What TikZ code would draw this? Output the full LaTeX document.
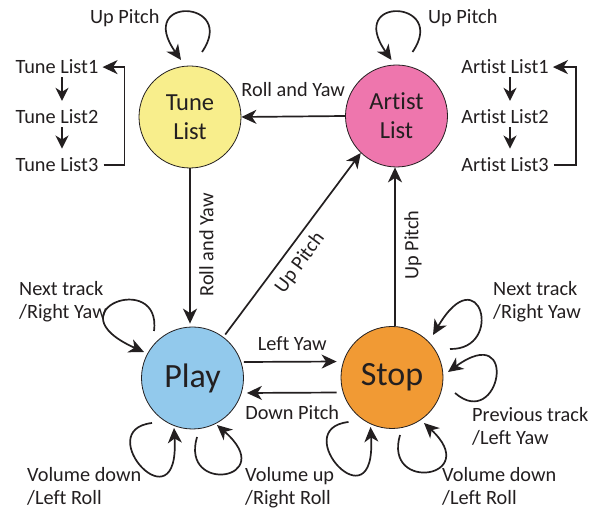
\documentclass[tikz,border=0pt]{standalone}
\usepackage{fontspec}
\setmainfont{Carlito}[Ligatures={NoCommon}]
\usetikzlibrary{arrows.meta,calc}
\definecolor{ink}{HTML}{231F20}
\definecolor{tuneY}{HTML}{F8EE8C}
\definecolor{artistP}{HTML}{EE76AD}
\definecolor{playB}{HTML}{92C9EC}
\definecolor{stopO}{HTML}{F19A34}
\begin{document}
\begin{tikzpicture}[x=1pt,y=-1pt,
  state/.style={circle, draw=ink, line width=0.8pt, minimum size=102pt, inner sep=0pt, text=ink, align=center},
  arr/.style={draw=ink, line width=1.7pt, -{Stealth[length=15pt,width=14pt,inset=4.5pt]}},
  sarr/.style={draw=ink, line width=1.7pt, -{Stealth[length=13pt,width=13pt,inset=4pt]}},
  lbl/.style={font=\fontsize{20.3}{23}\selectfont, text=ink, inner sep=0pt}]
\fill[white] (0,0) rectangle (595,510);
\useasboundingbox (0,0) rectangle (595,510);

% states
\node[state, fill=tuneY, font=\fontsize{24.5}{29}\selectfont] (tune) at (190,117) {Tune\\List};
\node[state, fill=artistP, font=\fontsize{24.5}{29}\selectfont] (artist) at (396.5,116) {Artist\\List};
\node[state, fill=playB, font=\fontsize{34}{36}\selectfont] (play) at (192.5,378) {Play};
\node[state, fill=stopO, font=\fontsize{34}{36}\selectfont] (stop) at (392,377.5) {Stop};

% lists
\node[lbl, anchor=base] (tl1) at (57,74) {Tune List1};
\node[lbl, anchor=base] (tl2) at (57,124) {Tune List2};
\node[lbl, anchor=base] (tl3) at (57,171.7) {Tune List3};
\node[lbl, anchor=base] (al1) at (505,74) {Artist List1};
\node[lbl, anchor=base] (al2) at (505,124) {Artist List2};
\node[lbl, anchor=base] (al3) at (505,171.7) {Artist List3};
\draw[sarr, shorten <=3pt, shorten >=9pt] ([xshift=5pt]tl1.south) -- ([xshift=5pt]tl2.north);
\draw[sarr, shorten <=3pt, shorten >=9pt] ([xshift=5pt]tl2.south) -- ([xshift=5pt]tl3.north);
\draw[sarr, shorten <=3pt, shorten >=9pt] ([xshift=5pt]al1.south) -- ([xshift=5pt]al2.north);
\draw[sarr, shorten <=3pt, shorten >=9pt] ([xshift=5pt]al2.south) -- ([xshift=5pt]al3.north);
\draw[arr, shorten <=5pt, shorten >=4pt] (tl3.east) -- ++(26,0) |- (tl1.east);
\draw[arr, shorten <=5pt, shorten >=4pt] (al3.east) -- ++(27,0) |- (al1.east);

% transitions
\draw[arr] (artist.west) -- node[lbl, above=19pt] {Roll and Yaw} (tune.east);
\draw[arr, shorten >=3pt] (tune.south) -- (tune.south |- play.north);
\node[lbl, rotate=90] at (206.5,244.7) {Roll and Yaw};
\draw[arr, shorten <=3pt] (play.53) -- (artist.226);
\node[lbl, rotate=53.5] at (300,263) {Up Pitch};
\draw[arr] ([xshift=3pt]stop.north) -- ([xshift=3pt]stop.north |- artist.south);
\node[lbl, rotate=90] at (413,245) {Up Pitch};
\draw[arr, shorten >=4pt] ([yshift=16pt]play.east) -- node[lbl, above=10pt] {Left Yaw} ([yshift=16pt]stop.west);
\draw[arr, shorten <=4pt, shorten >=3pt] ([yshift=-15pt]stop.west) -- node[lbl, below=12pt] {Down Pitch} ([yshift=-15pt]play.east);

% self loops
\draw[arr, shift={(tune)}] (12,-65) .. controls (48,-117) and (-55,-122) .. (-9,-57);
\node[lbl, anchor=base west] at (90,24) {Up Pitch};
\draw[arr, shift={(artist)}] (16,-64) .. controls (52,-116) and (-51,-121) .. (-5,-56);
\node[lbl, anchor=base west] at (428,24) {Up Pitch};

\draw[arr, shift={(play)}] (-38.5,-47) .. controls (-30.5,-108) and (-142.5,-68) .. (-48.5,-26);
\node[lbl, anchor=base west, align=left] at (19,319) {Next track\\/Right Yaw};
\draw[arr, shift={(play)}] (-40.5,45) .. controls (-102.5,52) and (-12.5,152) .. (-18.5,50);
\node[lbl, anchor=base west, align=left] at (27,505) {Volume down\\/Left Roll};
\draw[arr, shift={(play)}] (4.5,59) .. controls (-12.5,117) and (87.5,102) .. (24.5,47);
\node[lbl, anchor=base west, align=left] at (245,505) {Volume up\\/Right Roll};

\draw[arr, shift={(stop)}] (58,-28.5) .. controls (113,-27.5) and (88,-122.5) .. (41,-42.5);
\node[lbl, anchor=base west, align=left] at (493,319) {Next track\\/Right Yaw};
\draw[arr, shift={(stop)}] (63,15.5) .. controls (108,54.5) and (128,-57.5) .. (56,-5.5);
\node[lbl, anchor=base west, align=left] at (472,445) {Previous track\\/Left Yaw};
\draw[arr, shift={(stop)}] (-43.5,44.5) .. controls (-105.5,51.5) and (-15.5,151.5) .. (-21.5,49.5);
\draw[arr, shift={(stop)}] (8,57.5) .. controls (-9,115.5) and (91,100.5) .. (32,45.5);
\node[lbl, anchor=base west, align=left] at (442,505) {Volume down\\/Left Roll};
\end{tikzpicture}
\end{document}
